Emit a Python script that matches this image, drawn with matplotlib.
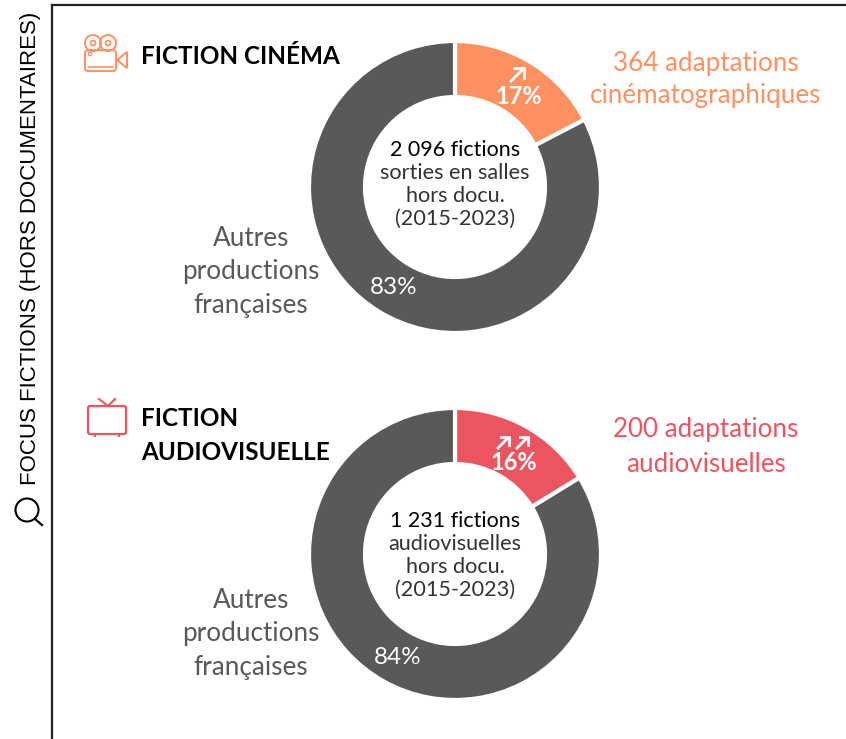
import matplotlib
matplotlib.use("Agg")
import matplotlib.pyplot as plt
from matplotlib.patches import Circle, FancyBboxPatch, Polygon, Rectangle

W = 846
H = 739

# counts
cinema_values = [364, 2096 - 364]
tv_values = [200, 1231 - 200]
cinema_pcts = ["17%", "83%"]
tv_pcts = ["16%", "84%"]

ORANGE = "#FF9160"
RED = "#EC5560"
GREY = "#595959"

plt.rcParams['font.family'] = ['Lato', 'DejaVu Sans']

fig = plt.figure(figsize=(W / 100, H / 100), dpi=100, facecolor="white")

# overlay in pixel coordinates, y going down like the picture
ax = fig.add_axes([0, 0, 1, 1], zorder=3)
ax.set_xlim(0, W)
ax.set_ylim(H, 0)
ax.axis("off")


def donut(values, colour, cx, cy, r=146):
    a = fig.add_axes([(cx - r - 2) / W, 1 - (cy + r + 2) / H, (2 * r + 4) / W, (2 * r + 4) / H], zorder=1)
    a.pie(values, colors=[colour, GREY], startangle=90, counterclock=False, radius=r,
          wedgeprops=dict(width=r - 90, edgecolor="white", linewidth=3))
    a.set_xlim(-r - 2, r + 2)
    a.set_ylim(-r - 2, r + 2)
    a.set_aspect("equal")
    a.axis("off")


def arrow(x, y, size=14):
    # open head drawn with three strokes, like the thin arrows of the original
    ax.plot([x, x + size], [y, y - size], color="white", lw=2, solid_capstyle="butt")
    ax.plot([x + size * 0.3, x + size, x + size], [y - size, y - size, y - size * 0.3],
            color="white", lw=2, solid_joinstyle="miter")


def center_text(y, first, rest):
    ax.text(455, y, first, ha="center", va="center", fontsize=15.5, color="black")
    for i, line in enumerate(rest):
        ax.text(455, y + 23 * (i + 1), line, ha="center", va="center", fontsize=15.6, color="#333333")


def side_labels(y, lines):
    for i, line in enumerate(lines):
        ax.text(x=line[1], y=y + 33.5 * i, s=line[0], ha="center", va="center", fontsize=18.8, color=GREY)


donut(cinema_values, ORANGE, 455, 187)
donut(tv_values, RED, 455, 554)

# frame lines
ax.plot([52, 52], [H, 5], color="#222222", lw=1.6, clip_on=False)
ax.plot([52, W], [5, 5], color="#222222", lw=1.6, clip_on=False)

# left rotated title and magnifier
ax.text(31, 248, "FOCUS FICTIONS (HORS DOCUMENTAIRES)", rotation=90, ha="center", va="center",
        fontsize=16, color="black", family=["Liberation Sans"])
ax.add_patch(Circle((27, 510), 11.5, fill=False, ec="black", lw=1.5))
ax.plot([35, 42], [519, 525], color="black", lw=1.6)

# titles
ax.text(141, 57, "FICTION CINÉMA", ha="left", va="center", fontsize=17.5, fontweight="bold", color="black")
ax.text(141, 419, "FICTION", ha="left", va="center", fontsize=17.5, fontweight="bold", color="black")
ax.text(141, 452, "AUDIOVISUELLE", ha="left", va="center", fontsize=17.5, fontweight="bold", color="black")

# camera icon
ax.add_patch(Circle((93, 43), 8, fill=False, ec=ORANGE, lw=1.4))
ax.add_patch(Circle((108, 43), 8, fill=False, ec=ORANGE, lw=1.4))
ax.add_patch(Circle((93, 43), 2.5, fill=False, ec=ORANGE, lw=1.2))
ax.add_patch(Circle((108, 43), 2.5, fill=False, ec=ORANGE, lw=1.2))
ax.add_patch(FancyBboxPatch((85, 50), 31, 21, boxstyle="round,pad=0,rounding_size=3", fill=False, ec=ORANGE, lw=1.4))
ax.add_patch(Polygon([[117, 60], [127, 52], [127, 68]], closed=True, fill=False, ec=ORANGE, lw=1.4))
ax.plot([89, 113], [67, 67], color=ORANGE, lw=1.2)
ax.add_patch(Circle((90, 54), 1.7, fill=False, ec=ORANGE, lw=1))

# tv icon
ax.add_patch(FancyBboxPatch((88, 406), 38, 28, boxstyle="round,pad=0,rounding_size=2", fill=False, ec=RED, lw=1.6))
ax.plot([99, 108, 115], [399, 406, 399], color=RED, lw=1.5)
ax.add_patch(Rectangle((94, 434), 2, 3, color=RED, lw=0))
ax.add_patch(Rectangle((118, 434), 2, 3, color=RED, lw=0))

# right labels
ax.text(706, 63, "364 adaptations", ha="center", va="center", fontsize=18.7, color=ORANGE)
ax.text(706, 96, "cinématographiques", ha="center", va="center", fontsize=18.7, color=ORANGE)
ax.text(706, 430, "200 adaptations", ha="center", va="center", fontsize=18.7, color=RED)
ax.text(706, 464, "audiovisuelles", ha="center", va="center", fontsize=18.7, color=RED)

# left labels
side_labels(238, [("Autres", 251), ("productions", 251), ("françaises", 251)])
side_labels(600, [("Autres", 251), ("productions", 251), ("françaises", 251)])

# donut percentages
ax.text(519, 97, cinema_pcts[0], ha="center", va="center", fontsize=17, fontweight="bold", color="white")
arrow(510, 82)
ax.text(514, 462, tv_pcts[0], ha="center", va="center", fontsize=17, fontweight="bold", color="white")
arrow(497, 449, 12)
arrow(516, 449, 12)
ax.text(394, 288, cinema_pcts[1], ha="center", va="center", fontsize=17.5, color="white")
ax.text(398, 657, tv_pcts[1], ha="center", va="center", fontsize=17.5, color="white")

# centre texts
center_text(150, "2 096 fictions", ["sorties en salles", "hors docu.", "(2015-2023)"])
center_text(521, "1 231 fictions", ["audiovisuelles", "hors docu.", "(2015-2023)"])

fig.savefig("out.png", dpi=100, facecolor="white")
